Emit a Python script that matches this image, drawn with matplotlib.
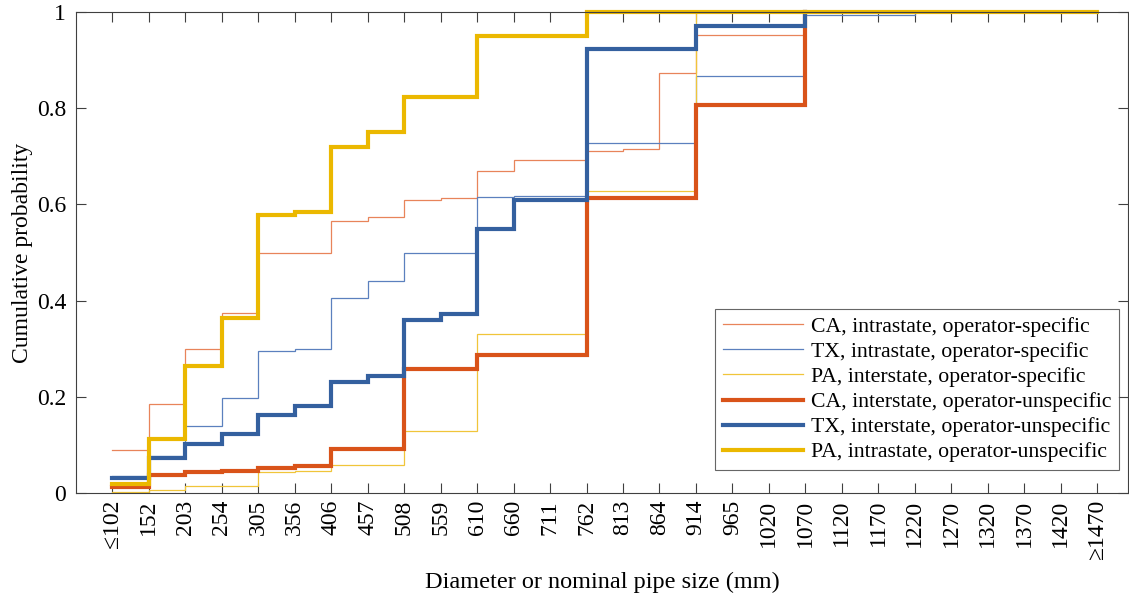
import matplotlib
matplotlib.use("Agg")
import matplotlib.pyplot as plt
import numpy as np
from matplotlib.ticker import FuncFormatter

# pipe size bins (mm)
size_labels = ["≤102", "152", "203", "254", "305", "356", "406", "457", "508",
               "559", "610", "660", "711", "762", "813", "864", "914", "965",
               "1020", "1070", "1120", "1170", "1220", "1270", "1320", "1370",
               "1420", "≥1470"]

# cumulative probability at each bin edge
ca_intra_specific = [0.089, 0.186, 0.299, 0.374, 0.498, 0.498, 0.566, 0.573,
                     0.609, 0.614, 0.670, 0.692, 0.692, 0.711, 0.715, 0.873,
                     0.953, 0.953, 0.953, 1.0, 1.0, 1.0, 1.0]
tx_intra_specific = [0.035, 0.078, 0.139, 0.198, 0.296, 0.300, 0.405, 0.441,
                     0.498, 0.498, 0.616, 0.618, 0.618, 0.728, 0.728, 0.728,
                     0.866, 0.866, 0.866, 0.994, 0.994, 0.994, 1.0]
pa_inter_specific = [0.002, 0.006, 0.015, 0.015, 0.044, 0.046, 0.059, 0.059,
                     0.129, 0.129, 0.331, 0.331, 0.331, 0.628, 0.628, 0.628,
                     1.0]
ca_inter_unspecific = [0.013, 0.037, 0.044, 0.045, 0.052, 0.056, 0.092, 0.092,
                       0.257, 0.257, 0.287, 0.287, 0.287, 0.614, 0.614, 0.614,
                       0.807, 0.807, 0.807, 1.0]
tx_inter_unspecific = [0.031, 0.073, 0.101, 0.122, 0.162, 0.181, 0.230, 0.244,
                       0.359, 0.373, 0.548, 0.609, 0.609, 0.924, 0.924, 0.924,
                       0.970, 0.970, 0.970, 1.0]
pa_intra_unspecific = [0.018, 0.112, 0.265, 0.364, 0.579, 0.585, 0.719, 0.751,
                       0.824, 0.824, 0.950, 0.950, 0.950, 1.0, 1.0, 1.0, 1.0,
                       1.0, 1.0, 1.0, 1.0, 1.0, 1.0, 1.0, 1.0, 1.0, 1.0, 1.0]

series = [
    ("CA, intrastate, operator-specific", ca_intra_specific, "#E8845A", 0.9),
    ("TX, intrastate, operator-specific", tx_intra_specific, "#5B80BE", 0.9),
    ("PA, interstate, operator-specific", pa_inter_specific, "#F0C53A", 0.9),
    ("CA, interstate, operator-unspecific", ca_inter_unspecific, "#D95319", 3.0),
    ("TX, interstate, operator-unspecific", tx_inter_unspecific, "#34609F", 3.0),
    ("PA, intrastate, operator-unspecific", pa_intra_unspecific, "#EBB800", 3.0),
]

plt.rcParams["font.family"] = ["Liberation Serif", "DejaVu Serif"]

fig = plt.figure(figsize=(11.29, 6.0), dpi=100)
ax = fig.add_axes([0.0673, 0.1783, 0.9322, 0.8017])

for name, vals, color, lw in series:
    x = np.arange(len(vals))
    ax.step(x, vals, where="post", color=color, lw=lw, label=name,
            clip_on=False, solid_joinstyle="miter")

ax.set_xlim(-1, 27.86)
ax.set_ylim(0, 1)
ax.set_xticks(np.arange(len(size_labels)))
ax.set_xticklabels(size_labels, rotation=90, fontsize=17)
ax.set_yticks([0, 0.2, 0.4, 0.6, 0.8, 1.0])
ax.yaxis.set_major_formatter(FuncFormatter(lambda v, p: f"{v:g}"))
ax.tick_params(axis="y", labelsize=17, pad=7)
ax.tick_params(axis="x", pad=5)
ax.tick_params(direction="in", length=7, width=0.8, color="#404040",
               top=True, right=True)
for sp in ax.spines.values():
    sp.set_color("#404040")
    sp.set_linewidth(0.8)

ax.set_xlabel("Diameter or nominal pipe size (mm)", fontsize=17.5, labelpad=8)
ax.set_ylabel("Cumulative probability", fontsize=17, labelpad=3)

leg = ax.legend(loc="lower right", bbox_to_anchor=(0.991, 0.048),
                borderaxespad=0, fontsize=15.7, frameon=True, fancybox=False,
                handlelength=3.7, handletextpad=0.35, labelspacing=0.22,
                borderpad=0.35)
leg.get_frame().set_edgecolor("#404040")
leg.get_frame().set_linewidth(0.8)

fig.savefig("out.png", dpi=100)
